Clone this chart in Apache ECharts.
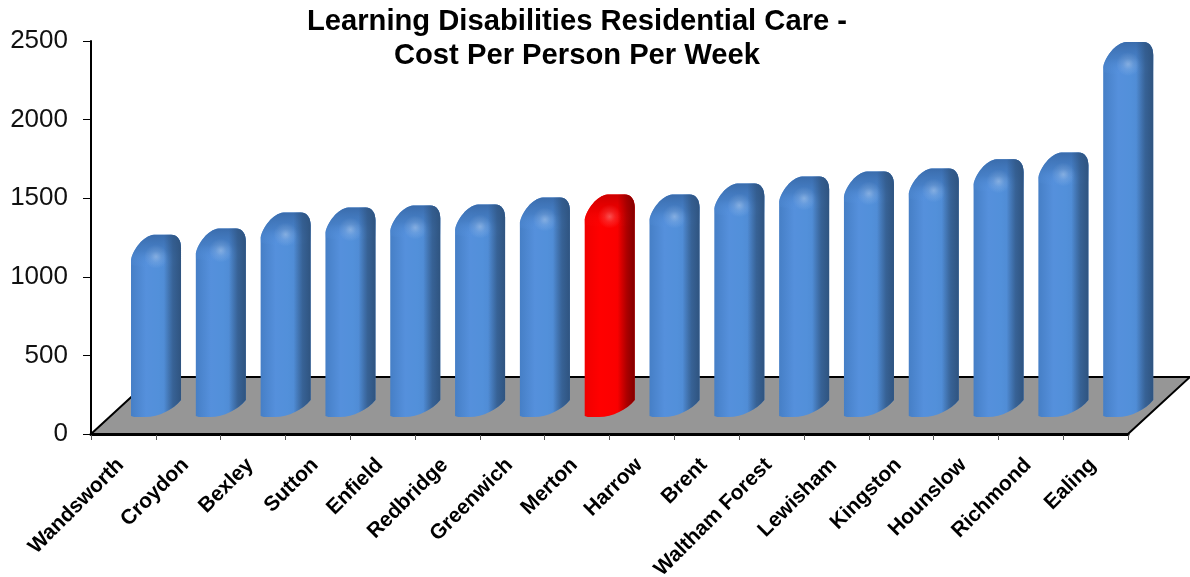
<!DOCTYPE html>
<html><head><meta charset="utf-8">
<script src="https://cdn.jsdelivr.net/npm/echarts@6/dist/echarts.min.js"></script>
<style>html,body{margin:0;padding:0;background:#fff}#c{width:1190px;height:577px}</style>
</head><body><div id="c"></div>
<script>
const titleLines = ['Learning Disabilities Residential Care -', 'Cost Per Person Per Week'];
const categories = ['Wandsworth','Croydon','Bexley','Sutton','Enfield','Redbridge','Greenwich','Merton','Harrow','Brent','Waltham Forest','Lewisham','Kingston','Hounslow','Richmond','Ealing'];
const values = [1001,1040,1142,1173,1186,1192,1237,1256,1256,1327,1371,1403,1422,1480,1524,2226];
const highlighted = 'Merton';
const yTicks = {min:0,max:2500,interval:500};

const blueFace = [[0,'#467fc6'],[0.3,'#5590dc'],[0.55,'#5290da'],[1,'#4a82c8']];
const redFace  = [[0,'#f00000'],[0.3,'#ff0000'],[0.6,'#fb0000'],[1,'#e80000']];
const blueShade = [[0,'rgba(47,84,128,0)'],[0.66,'rgba(47,84,128,0)'],[0.84,'rgba(47,84,128,0.72)'],[1,'rgba(47,84,128,1)']];
const redShade  = [[0,'rgba(130,0,0,0)'],[0.66,'rgba(130,0,0,0)'],[0.84,'rgba(130,0,0,0.62)'],[1,'rgba(130,0,0,1)']];
const blueCap = ['rgba(58,108,172,1)','rgba(68,124,194,0.8)','rgba(90,151,228,0)'];
const redCap  = ['rgba(205,0,0,1)','rgba(235,0,0,0.8)','rgba(255,10,10,0)'];

const DX = 62, DY = 57;          // depth of the floor
const BAR_INSET = 40/64.8, BAR_W = 50/64.8, LIFT = 17;

function stops(a){return a.map(s=>({offset:s[0],color:s[1]}));}
function renderFloor(params, api){
  const g = params.coordSys;
  const x0=g.x, x1=g.x+g.width, y=g.y+g.height;
  return {type:'polygon',z2:0,silent:true,
    shape:{points:[[x0,y],[x1,y],[x1+DX,y-DY],[x0+DX,y-DY]]},
    style:{fill:'#969696',stroke:'#000',lineWidth:2}};
}
function renderBar(params, api){
  const i = api.value(0), v = api.value(1);
  const band = api.size([1,0])[0];
  const start = api.coord([i,0])[0]-band/2;
  const base = api.coord([i,0])[1]-LIFT;
  const sh = api.coord([i,v])[1]-LIFT;
  const w = band*BAR_W, x = start+band*BAR_INSET, r = x+w, t = sh-25;
  const isRed = categories[i]===highlighted;
  const cap = isRed?redCap:blueCap;
  const topEdge =
    `L${x} ${sh} C${x+2} ${sh-10} ${x+12} ${t+1} ${x+23} ${t} L${r-10} ${t} `+
    `C${r-3} ${t} ${r} ${t+6} ${r} ${t+13} `;
  const outline =
    `M${x} ${base-1} ${topEdge}L${r} ${base-17} C${r-8} ${base-7} ${x+26} ${base+1} ${x+12} ${base} L${x+3} ${base} Z`;
  const capPath =
    `M${x} ${sh+5} ${topEdge}L${r} ${sh+4} C${r-10} ${sh+8} ${x+14} ${sh+10} ${x} ${sh+5} Z`;
  return {type:'group',children:[
    {type:'path',shape:{pathData:outline},
     style:{fill:new echarts.graphic.LinearGradient(0,0,1,0,stops(isRed?redFace:blueFace))}},
    {type:'path',shape:{pathData:capPath},
     style:{fill:new echarts.graphic.LinearGradient(0,0,0,1,[
       {offset:0,color:cap[0]},{offset:0.5,color:cap[1]},{offset:1,color:cap[2]}])}},
    {type:'circle',shape:{cx:x+25,cy:sh-3,r:12},
     style:{fill:new echarts.graphic.RadialGradient(0.5,0.5,0.5,[
       {offset:0,color:'rgba(255,255,255,0.3)'},{offset:0.45,color:'rgba(255,255,255,0.12)'},{offset:1,color:'rgba(255,255,255,0)'}])}},
    {type:'path',shape:{pathData:outline},
     style:{fill:new echarts.graphic.LinearGradient(0,0,1,0,stops(isRed?redShade:blueShade))}}
  ]};
}
const chart = echarts.init(document.getElementById('c'),null,{renderer:'canvas'});
chart.setOption({
  animation:false,
  backgroundColor:'#fff',
  title:{text:titleLines.join('\n'),left:572,top:0,textAlign:'center',
    textStyle:{fontFamily:'Liberation Sans',fontWeight:'bold',fontSize:29.2,lineHeight:34,color:'#000'}},
  grid:{left:91,right:62,top:41,bottom:143,outerBoundsMode:'none'},
  xAxis:{type:'category',data:categories,boundaryGap:true,
    axisLine:{show:true,onZero:false,lineStyle:{color:'#000',width:3}},
    axisTick:{show:true,alignWithLabel:false,length:6,lineStyle:{color:'#555',width:1}},
    axisLabel:{interval:0,rotate:45,margin:25,padding:[0,4,0,0],hideOverlap:false,fontFamily:'Liberation Sans',fontWeight:'bold',fontSize:21,color:'#000'},
    splitLine:{show:false}},
  yAxis:{type:'value',min:yTicks.min,max:yTicks.max,interval:yTicks.interval,
    axisLine:{show:true,lineStyle:{color:'#000',width:2}},
    axisTick:{show:true,length:8,lineStyle:{color:'#000',width:1}},
    axisLabel:{margin:23,fontFamily:'Liberation Sans',fontSize:26,color:'#111',formatter:v=>String(v)},
    splitLine:{show:false}},
  series:[
    {type:'custom',name:'floor',z:1,silent:true,clip:false,renderItem:renderFloor,data:[[0,0]],
     encode:{x:0,y:1}},
    {type:'custom',name:'Cost per person per week',z:3,clip:false,renderItem:renderBar,
     data:values.map((v,i)=>[i,v]),encode:{x:0,y:1}}
  ]
});
</script></body></html>
